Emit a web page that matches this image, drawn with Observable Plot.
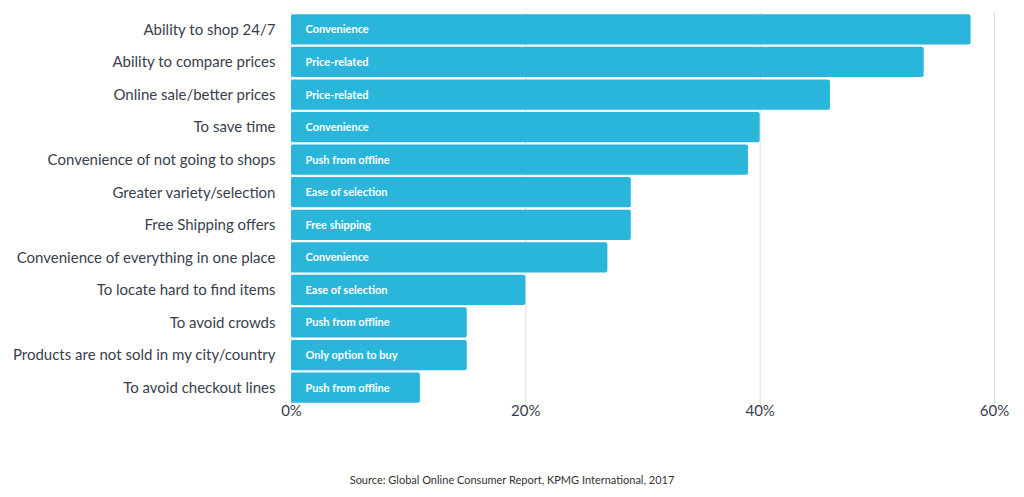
<!DOCTYPE html>
<html>
<head>
<meta charset="utf-8">
<script src="https://cdn.jsdelivr.net/npm/d3@7"></script>
<script src="https://cdn.jsdelivr.net/npm/@observablehq/plot@0.6"></script>
<style>
  body { margin: 0; background: #fff; font-family: Lato, "Open Sans", sans-serif; }
  #chart svg { display: block; }
  #caption { text-align: center; font-size: 11px; color: #333; padding-top: 33px; font-family: Lato, sans-serif; }
</style>
</head>
<body>
<div id="chart"></div>
<div id="caption">Source: Global Online Consumer Report, KPMG International, 2017</div>
<script>
const reasons = [
  "Ability to shop 24/7",
  "Ability to compare prices",
  "Online sale/better prices",
  "To save time",
  "Convenience of not going to shops",
  "Greater variety/selection",
  "Free Shipping offers",
  "Convenience of everything in one place",
  "To locate hard to find items",
  "To avoid crowds",
  "Products are not sold in my city/country",
  "To avoid checkout lines"
];
const shares = [58, 54, 46, 40, 39, 29, 29, 27, 20, 15, 15, 11];
const groups = [
  "Convenience", "Price-related", "Price-related", "Convenience", "Push from offline",
  "Ease of selection", "Free shipping", "Convenience", "Ease of selection",
  "Push from offline", "Only option to buy", "Push from offline"
];
const xTicks = [0, 20, 40, 60];

const data = reasons.map((r, i) => ({reason: r, share: shares[i], group: groups[i]}));

const chart = Plot.plot({
  width: 1024,
  height: 440,
  marginLeft: 291,
  marginRight: 30,
  marginTop: 12,
  marginBottom: 35,
  style: {fontFamily: "Lato, sans-serif", background: "#fff"},
  x: {domain: [0, 60], label: null},
  y: {domain: reasons, label: null, padding: 0.07, round: false},
  marks: [
    Plot.gridX(xTicks, {stroke: "#dcdcdc", strokeOpacity: 1, strokeWidth: 1}),
    Plot.barX(data, {x: "share", y: "reason", fill: "#29b6da", rx: 2}),
    Plot.text(data, {x: 0, y: "reason", text: "group", textAnchor: "start", dx: 14, fill: "#fff", fontSize: 11, fontWeight: "bold"}),
    Plot.axisY({tickSize: 0, tickPadding: 16, fontSize: 15, color: "#39404d"}),
    Plot.axisX(xTicks, {tickSize: 0, tickPadding: 0, fontSize: 15, color: "#39404d", tickFormat: d => d + "%"})
  ]
});
document.getElementById("chart").appendChild(chart);
</script>
</body>
</html>
